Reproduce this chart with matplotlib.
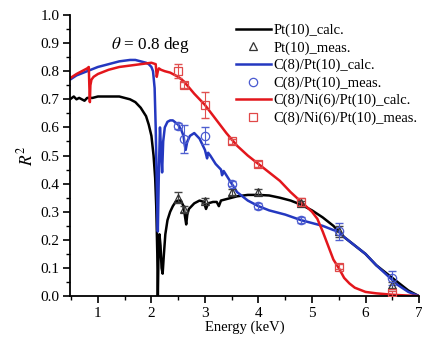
import numpy as np
import matplotlib
matplotlib.use('Agg')
import matplotlib.pyplot as plt
from matplotlib.ticker import MultipleLocator

# calculated curves
pt_E = [0.48,0.55,0.6,0.65,0.7,0.75,0.8,0.9,1.0,1.2,1.4,1.6,1.7,1.8,1.9,1.95,2.0,2.04,2.07,2.09,2.11,2.12,2.13,2.15,2.17,2.19,2.21,2.23,2.26,2.3,2.35,2.4,2.45,2.5,2.55,2.6,2.63,2.65,2.67,2.7,2.8,2.9,2.98,3.02,3.06,3.15,3.22,3.26,3.3,3.4,3.6,3.8,4.0,4.2,4.4,4.6,4.8,5.0,5.2,5.4,5.5,5.6,5.8,6.0,6.2,6.4,6.6,6.8,7.0]
pt_R = [0.70,0.71,0.70,0.705,0.70,0.695,0.705,0.705,0.71,0.71,0.71,0.70,0.69,0.67,0.64,0.61,0.57,0.50,0.42,0.32,0.15,0.0,0.12,0.22,0.18,0.10,0.08,0.14,0.22,0.27,0.30,0.32,0.335,0.34,0.34,0.32,0.28,0.255,0.29,0.31,0.33,0.34,0.335,0.31,0.33,0.335,0.335,0.32,0.34,0.345,0.355,0.36,0.36,0.358,0.35,0.34,0.325,0.305,0.28,0.25,0.23,0.21,0.18,0.15,0.11,0.08,0.05,0.02,0.0]

cpt_E = [0.48,0.6,0.8,1.0,1.2,1.4,1.6,1.7,1.8,1.9,1.95,2.0,2.03,2.06,2.08,2.10,2.12,2.14,2.16,2.18,2.20,2.22,2.25,2.3,2.35,2.4,2.5,2.56,2.6,2.62,2.64,2.67,2.72,2.8,2.9,3.0,3.04,3.06,3.1,3.2,3.3,3.32,3.35,3.4,3.5,3.6,3.8,4.0,4.2,4.5,4.8,5.0,5.2,5.4,5.5,5.6,5.8,6.0,6.2,6.4,6.6,6.8,7.0]
cpt_R = [0.77,0.785,0.80,0.815,0.825,0.835,0.84,0.84,0.835,0.83,0.825,0.815,0.80,0.74,0.60,0.40,0.23,0.45,0.60,0.52,0.44,0.55,0.60,0.62,0.625,0.625,0.61,0.59,0.57,0.54,0.52,0.55,0.57,0.58,0.56,0.52,0.49,0.51,0.50,0.47,0.45,0.43,0.445,0.43,0.40,0.37,0.34,0.32,0.305,0.29,0.27,0.26,0.25,0.235,0.23,0.21,0.18,0.15,0.11,0.075,0.04,0.015,0.0]

cnp_E = [0.48,0.6,0.7,0.8,0.83,0.84,0.85,0.86,0.88,0.92,1.0,1.2,1.4,1.6,1.8,2.0,2.08,2.1,2.12,2.14,2.18,2.25,2.35,2.5,2.6,2.8,3.0,3.2,3.4,3.6,3.8,4.0,4.2,4.4,4.6,4.8,5.0,5.1,5.2,5.3,5.4,5.5,5.6,5.7,5.8,6.0,6.2,6.5,7.0]
cnp_R = [0.775,0.79,0.80,0.81,0.815,0.75,0.69,0.75,0.77,0.78,0.79,0.805,0.815,0.82,0.825,0.83,0.825,0.78,0.80,0.81,0.805,0.80,0.795,0.78,0.765,0.72,0.68,0.63,0.58,0.535,0.50,0.47,0.44,0.41,0.37,0.335,0.30,0.275,0.23,0.18,0.13,0.10,0.065,0.045,0.03,0.015,0.01,0.005,0.0]

# measured points
meas_E = [2.5, 2.6, 3.0, 3.5, 4.0, 4.8, 5.5, 6.5]
pt_meas = [0.35, 0.31, 0.34, 0.37, 0.37, 0.33, 0.23, 0.04]
pt_err = [0.02, 0.01, 0.01, 0.01, 0.01, 0.01, 0.02, 0.01]
cpt_meas = [0.605, 0.56, 0.57, 0.40, 0.32, 0.27, 0.23, 0.064]
cpt_err = [0.01, 0.05, 0.03, 0.01, 0.01, 0.01, 0.03, 0.025]
cnp_meas = [0.80, 0.75, 0.68, 0.55, 0.47, 0.335, 0.105, 0.01]
cnp_err = [0.025, 0.01, 0.045, 0.01, 0.01, 0.015, 0.01, 0.01]

plt.rcParams['font.family'] = ['Liberation Serif', 'DejaVu Serif']
plt.rcParams['mathtext.fontset'] = 'stix'

black = '#000000'
blue = '#2438c0'
red = '#e3161c'

fig = plt.figure(figsize=(4.22, 3.40), dpi=100)
ax = fig.add_axes([0.166, 0.129, 0.827, 0.827])

ax.plot(pt_E, pt_R, color=black, lw=1.8, label='Pt(10)_calc.', zorder=2)
ax.errorbar(meas_E, pt_meas, yerr=pt_err, fmt='none', ecolor='#444444', elinewidth=0.8, capsize=3, zorder=3)
ax.plot(meas_E, pt_meas, ls='none', marker='^', ms=6, mfc='none', mec='#333333', mew=0.9,
        label='Pt(10)_meas.', zorder=4)

ax.plot(cpt_E, cpt_R, color=blue, lw=1.8, label='C(8)/Pt(10)_calc.', zorder=2)
ax.errorbar(meas_E, cpt_meas, yerr=cpt_err, fmt='none', ecolor='#5060d0', elinewidth=0.8, capsize=3, zorder=3)
ax.plot(meas_E, cpt_meas, ls='none', marker='o', ms=6, mfc='none', mec='#4a5ad0', mew=0.9,
        label='C(8)/Pt(10)_meas.', zorder=4)

ax.plot(cnp_E, cnp_R, color=red, lw=1.8, label='C(8)/Ni(6)/Pt(10)_calc.', zorder=2)
ax.errorbar(meas_E, cnp_meas, yerr=cnp_err, fmt='none', ecolor='#e05050', elinewidth=0.8, capsize=3, zorder=3)
ax.plot(meas_E, cnp_meas, ls='none', marker='s', ms=5.5, mfc='none', mec='#e04848', mew=0.9,
        label='C(8)/Ni(6)/Pt(10)_meas.', zorder=4)

ax.set_xlim(0.48, 7)
ax.set_ylim(0, 1.0)
ax.xaxis.set_major_locator(MultipleLocator(1))
ax.xaxis.set_minor_locator(MultipleLocator(0.5))
ax.yaxis.set_major_locator(MultipleLocator(0.1))
ax.yaxis.set_minor_locator(MultipleLocator(0.05))
ax.yaxis.set_major_formatter(plt.FormatStrFormatter('%.1f'))
ax.spines['top'].set_visible(False)
ax.spines['right'].set_visible(False)
ax.spines['left'].set_linewidth(1.3)
ax.spines['bottom'].set_linewidth(1.3)
ax.tick_params(which='major', direction='out', length=5, width=1.2, labelsize=11, pad=2.5)
ax.tick_params(which='minor', direction='out', length=3, width=1.0)

ax.set_xlabel('Energy (keV)', fontsize=10.5, labelpad=1)
ax.set_ylabel('$R^2$', fontsize=12.5, labelpad=3)

ax.text(1.97, 0.893, r'$\theta$ = 0.8 deg', fontsize=12.3, ha='center', va='center')

ax.legend(loc='upper right', bbox_to_anchor=(1.02, 1.0), frameon=False, fontsize=10.5,
          handlelength=2.4, handletextpad=0.15, labelspacing=0.28, borderaxespad=0.2)

fig.savefig('out.png', dpi=100)
